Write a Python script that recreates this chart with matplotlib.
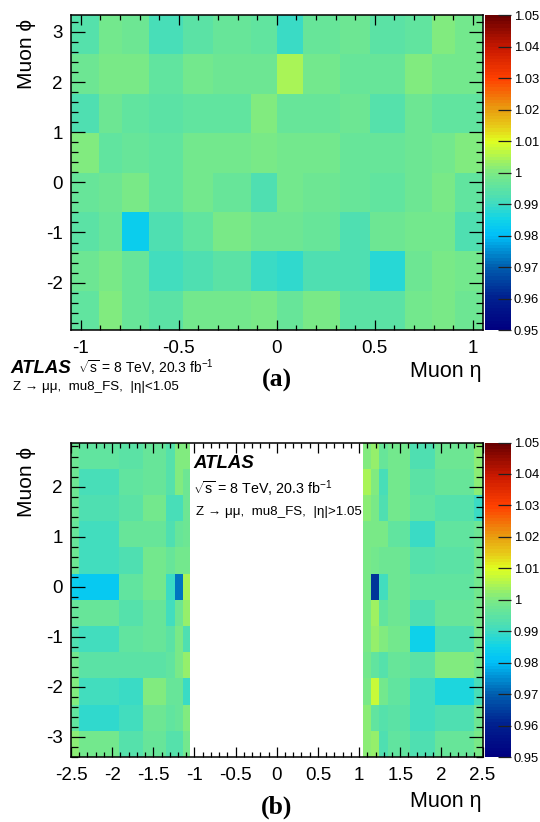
import numpy as np
import matplotlib
matplotlib.use('Agg')
import matplotlib.pyplot as plt
from matplotlib.colors import LinearSegmentedColormap, Normalize
from matplotlib.ticker import MultipleLocator

plt.rcParams['font.family'] = ['Liberation Sans', 'DejaVu Sans']
plt.rcParams['mathtext.fontset'] = 'custom'
plt.rcParams['mathtext.rm'] = 'Liberation Sans'
plt.rcParams['mathtext.default'] = 'regular'
plt.rcParams['axes.unicode_minus'] = False

W, H = 540, 822

# bin edges
half_eta = [0.132, 0.324, 0.476, 0.652, 0.791, 0.908, 1.05]
eta_a = [-e for e in half_eta[::-1]] + [0] + half_eta
phi_a = [(-15 + 4 * i) * np.pi / 16 for i in range(9)]

eta_b = [-2.5, -2.4, -1.918, -1.623, -1.348, -1.239, -1.145, -1.05,
         1.05, 1.145, 1.239, 1.348, 1.623, 1.918, 2.4, 2.5]
phi_b = [(-13 + 2 * i) * np.pi / 12 for i in range(13)]

# panel (a) scale factors, rows from top (high phi) to bottom
a_r1 = [.9935, .9985, .9975, .991, .9945, .9965, .995, .989, .996, .9975, .994, .995, 1.0005, .9985]
a_r2 = [.9975, .9995, .9995, .995, .9985, .9975, .9975, 1.0045, .998, .9965, .996, 1.0005, .9985, .9985]
a_r3 = [.9925, .997, .995, .9945, .9955, .9955, 1.001, .9965, .9965, .997, .993, .997, .9955, .995]
a_r4 = [1.001, .9955, .9965, .995, .9985, .998, .9995, .9985, .9985, .996, .9965, .9975, .998, 1.0]
a_r5 = [.9965, .9975, .999, .995, .998, .996, .992, .998, .9975, .9965, .995, .9975, .999, .995]
a_r6 = [.9945, .9965, .9835, .9925, .9955, .999, .997, .997, .9965, .9925, .9975, .998, .998, .9925]
a_r7 = [.9975, .999, .9965, .9905, .9925, .994, .9895, .9885, .9925, .9925, .9875, .9975, .999, .998]
a_r8 = [.9955, 1.001, .9965, .9945, .998, .998, .999, .996, .9995, .9945, .9945, .9985, .9995, .9975]

# panel (b) negative eta side, rows from top
bl_r1 = [.9975, .995, .994, .9965, .9935, 1.0, 1.0]
bl_r2 = [.9975, .9915, .995, .9965, .9935, 1.0, .997]
bl_r3 = [.9975, .9925, .9945, .998, .991, .991, .997]
bl_r4 = [.9965, .9905, .996, .9965, .9925, .996, .997]
bl_r5 = [.997, .9905, .9925, .998, .9965, .9985, .998]
bl_r6 = [.9835, .9825, .9955, .998, .9895, .972, 1.004]
bl_r7 = [.996, .996, .993, .9965, .99, .997, 1.003]
bl_r8 = [.992, .99, .995, .9965, .9945, .999, .992]
bl_r9 = [.9985, .9945, .994, .9945, .995, .9995, 1.003]
bl_r10 = [1.0005, .9905, .989, 1.0, .9965, .9965, .989]
bl_r11 = [.9955, .9885, .99, .997, .995, .996, 1.0]
bl_r12 = [1.0015, .9985, .993, .996, .993, .993, .9985]

# panel (b) positive eta side, rows from top
br_r1 = [1.0, 1.003, .996, .9985, .9925, .997, 1.0015]
br_r2 = [1.004, 1.0, .991, .998, .9945, .9965, 1.0015]
br_r3 = [1.0015, .9995, .9925, .998, .9955, .9935, .9895]
br_r4 = [.9995, .9995, .9995, .9955, .989, .995, .997]
br_r5 = [.9995, .9985, .997, .997, .993, .9945, .998]
br_r6 = [.999, .9635, .9905, .997, .995, .9955, .9985]
br_r7 = [.9995, 1.0035, .9955, .9975, .9925, .9965, .9985]
br_r8 = [.9995, 1.002, 1.0005, .9985, .9845, .9925, .9985]
br_r9 = [.9985, .9955, .9935, .9965, .9945, 1.0, .998]
br_r10 = [.9995, 1.008, .9985, .9955, .99, .9865, .991]
br_r11 = [1.0015, .995, .9935, .9945, .9905, .992, .9975]
br_r12 = [1.0015, 1.0025, .9925, .995, .992, .9965, .999]

a_rows = [a_r1, a_r2, a_r3, a_r4, a_r5, a_r6, a_r7, a_r8]
bl_rows = [bl_r1, bl_r2, bl_r3, bl_r4, bl_r5, bl_r6, bl_r7, bl_r8, bl_r9, bl_r10, bl_r11, bl_r12]
br_rows = [br_r1, br_r2, br_r3, br_r4, br_r5, br_r6, br_r7, br_r8, br_r9, br_r10, br_r11, br_r12]

vals_a = np.array(a_rows[::-1])
vals_b = np.array([l + [np.nan] + r for l, r in zip(bl_rows, br_rows)][::-1])

# colour scale stops
stop_pos = [0, 0.1, 0.2, 0.3, 0.35, 0.4, 0.5, 0.6, 0.65, 0.7, 0.8, 0.9, 1]
stop_col = ['#000080', '#00208f', '#0060b0', '#00c0f8', '#10d4e8', '#40dcc0', '#7cea84',
            '#e0ff20', '#e8c818', '#e8a010', '#ff4000', '#c81800', '#6a0000']
cmap = LinearSegmentedColormap.from_list('palette', list(zip(stop_pos, stop_col)), N=100)
norm = Normalize(0.95, 1.05)

fig = plt.figure(figsize=(W / 100, H / 100), dpi=100)


def px_axes(x0, y0, x1, y1):
    return fig.add_axes([x0 / W, 1 - y1 / H, (x1 - x0) / W, (y1 - y0) / H])


def style(ax, ylen):
    ax.set_facecolor('white')
    for s in ax.spines.values():
        s.set_linewidth(1.1)
    ax.xaxis.set_major_locator(MultipleLocator(0.5))
    ax.xaxis.set_minor_locator(MultipleLocator(0.1))
    ax.yaxis.set_major_locator(MultipleLocator(1))
    ax.yaxis.set_minor_locator(MultipleLocator(0.2))
    ax.tick_params(axis='x', which='major', direction='in', top=True, length=7.5, width=0.9,
                   labelsize=13.5, pad=7.2)
    ax.tick_params(axis='x', which='minor', direction='in', top=True, length=3.8, width=0.9)
    ax.tick_params(axis='y', which='major', direction='in', right=True, length=ylen, width=0.9,
                   labelsize=13.5, pad=6)
    ax.tick_params(axis='y', which='minor', direction='in', right=True, length=ylen / 2, width=0.9)


def colour_bar(x0, y0, x1, y1):
    cax = px_axes(x0, y0, x1, y1)
    levels = np.linspace(0.95, 1.05, 101)
    cax.pcolormesh([0, 1], levels, ((levels[:-1] + levels[1:]) / 2)[:, None], cmap=cmap, norm=norm,
                   antialiased=False)
    cax.set_xticks([])
    cax.yaxis.tick_right()
    cax.set_yticks(np.arange(0.95, 1.0501, 0.01))
    cax.set_yticklabels(['0.95', '0.96', '0.97', '0.98', '0.99', '1', '1.01', '1.02', '1.03', '1.04', '1.05'])
    cax.tick_params(axis='y', direction='in', length=9.5, width=0.9, labelsize=9.4, pad=2, color='#202020')
    for s in cax.spines.values():
        s.set_visible(False)
    return cax


def txt(x, y, s, **kw):
    fig.text(x / W, 1 - y / H, s, **kw)


# panel a
ax1 = px_axes(71, 15, 482.5, 330)
ax1.pcolormesh(eta_a, phi_a, vals_a, cmap=cmap, norm=norm, antialiased=False)
ax1.set_xlim(-1.05, 1.05)
ax1.set_ylim(phi_a[0], phi_a[-1])
style(ax1, 10)
ax1.set_xticks([-1, -0.5, 0, 0.5, 1])
ax1.set_xticklabels(['-1', '-0.5', '0', '0.5', '1'])
colour_bar(485, 15, 511, 330)

# panel b
ax2 = px_axes(71, 442.5, 482.5, 757)
ax2.pcolormesh(eta_b, phi_b, vals_b, cmap=cmap, norm=norm, antialiased=False)
ax2.set_xlim(-2.5, 2.5)
ax2.set_ylim(phi_b[0], phi_b[-1])
style(ax2, 10)
ax2.set_xticks(np.arange(-2.5, 2.51, 0.5))
ax2.set_xticklabels(['-2.5', '-2', '-1.5', '-1', '-0.5', '0', '0.5', '1', '1.5', '2', '2.5'])
colour_bar(485, 442.5, 511, 757)

# axis titles
phi_label = 'Muon \u03d5'
eta_label = 'Muon \u03b7'
txt(26, 19, phi_label, rotation=90, ha='center', va='top', fontsize=15)
txt(26, 447, phi_label, rotation=90, ha='center', va='top', fontsize=15)
txt(482, 371, eta_label, ha='right', va='center', fontsize=15.5)
txt(482, 801, eta_label, ha='right', va='center', fontsize=15.5)

txt(277, 380, '(a)', ha='center', va='center', fontsize=18.5, fontweight='bold', family='Liberation Serif')
txt(277, 807, '(b)', ha='center', va='center', fontsize=18.5, fontweight='bold', family='Liberation Serif')

# annotations
sqrt_s = r'$\sqrt{s}$ = 8 TeV, 20.3 fb$^{-1}$'
txt(10, 368, 'ATLAS', ha='left', va='center', fontsize=13.4, fontweight='bold', style='italic')
txt(78, 368, sqrt_s, ha='left', va='center', fontsize=10)
txt(13, 387, 'Z \u2192 \u03bc\u03bc,  mu8_FS,  |\u03b7|<1.05', ha='left', va='center', fontsize=9.6)

txt(193, 463, 'ATLAS', ha='left', va='center', fontsize=13.4, fontweight='bold', style='italic')
txt(193, 489, sqrt_s, ha='left', va='center', fontsize=10.3)
txt(196, 512, 'Z \u2192 \u03bc\u03bc,  mu8_FS,  |\u03b7|>1.05', ha='left', va='center', fontsize=9.6)

plt.savefig('out.png', dpi=100)
plt.close()
